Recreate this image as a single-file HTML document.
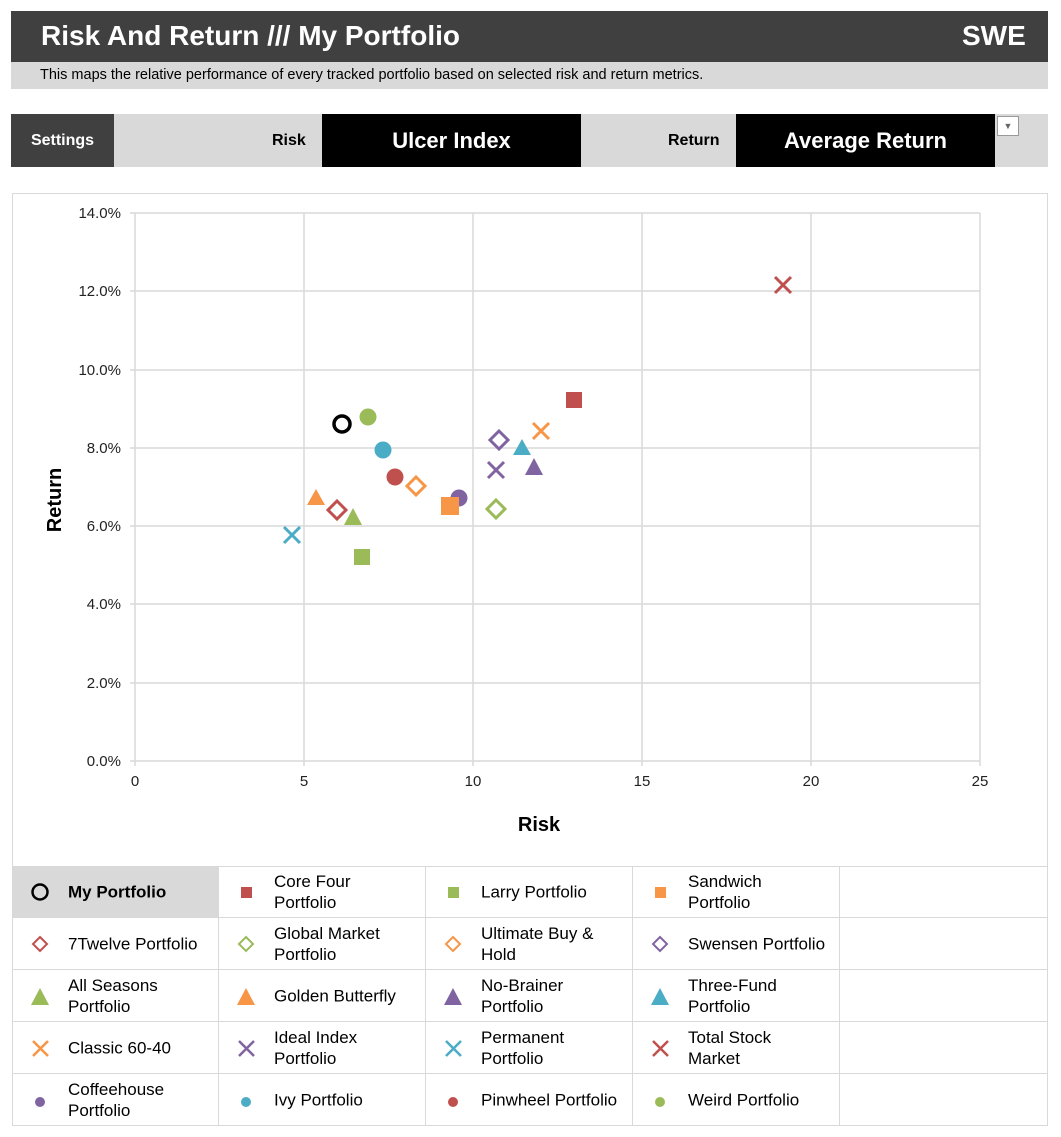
<!DOCTYPE html>
<html><head><style>
body{margin:0;width:1061px;height:1137px;background:#fff;font-family:"Liberation Sans",Arial,sans-serif;position:relative;overflow:hidden}
.a{position:absolute}
.lg{position:absolute;border-right:1px solid #d9d9d9;border-bottom:1px solid #d9d9d9;box-sizing:border-box;font-size:17px;color:#000;line-height:21px}
.lg svg{position:absolute;left:18px;top:17px}
.lg span{position:absolute;left:55px;top:50%;transform:translateY(-50%)}
</style></head><body>
<div class="a" style="left:11px;top:11px;width:1037px;height:51px;background:#404040"></div>
<div class="a" style="left:41px;top:20px;color:#fff;font-size:28px;font-weight:bold">Risk And Return /// My Portfolio</div>
<div class="a" style="left:962px;top:20px;color:#fff;font-size:28px;font-weight:bold">SWE</div>
<div class="a" style="left:11px;top:62px;width:1037px;height:27px;background:#d9d9d9"></div>
<div class="a" style="left:40px;top:67px;font-size:14.5px">This maps the relative performance of every tracked portfolio based on selected risk and return metrics.</div>
<div class="a" style="left:11px;top:114px;width:1037px;height:53px;background:#d9d9d9"></div>
<div class="a" style="left:11px;top:114px;width:103px;height:53px;background:#404040;color:#fff;font-size:16px;font-weight:bold;line-height:53px;text-align:center">Settings</div>
<div class="a" style="left:272px;top:114px;font-size:16px;font-weight:bold;line-height:53px">Risk</div>
<div class="a" style="left:322px;top:114px;width:259px;height:53px;background:#000;color:#fff;font-size:22px;font-weight:bold;line-height:53px;text-align:center">Ulcer Index</div>
<div class="a" style="left:668px;top:114px;font-size:16px;font-weight:bold;line-height:53px">Return</div>
<div class="a" style="left:736px;top:114px;width:259px;height:53px;background:#000;color:#fff;font-size:22px;font-weight:bold;line-height:53px;text-align:center">Average Return</div>
<div class="a" style="left:997px;top:116px;width:22px;height:20px;background:#fff;border:1px solid #999;box-sizing:border-box;font-size:9px;color:#666;text-align:center;line-height:18px">▼</div>
<svg class="a" style="left:0;top:0" width="1061" height="870">
<rect x="12.5" y="193.5" width="1035" height="673" fill="#fff" stroke="#d9d9d9"/>
<g stroke="#d9d9d9" stroke-width="1.5">
<line x1="130" y1="213" x2="980" y2="213"/><line x1="130" y1="291" x2="980" y2="291"/><line x1="130" y1="370" x2="980" y2="370"/><line x1="130" y1="448" x2="980" y2="448"/><line x1="130" y1="526" x2="980" y2="526"/><line x1="130" y1="604" x2="980" y2="604"/><line x1="130" y1="683" x2="980" y2="683"/><line x1="130" y1="761" x2="980" y2="761"/>
<line x1="135" y1="213" x2="135" y2="766"/><line x1="304" y1="213" x2="304" y2="766"/><line x1="473" y1="213" x2="473" y2="766"/><line x1="642" y1="213" x2="642" y2="766"/><line x1="811" y1="213" x2="811" y2="766"/><line x1="980" y1="213" x2="980" y2="766"/>
</g>
<g font-size="15" fill="#222" text-anchor="end">
<text x="121" y="218">14.0%</text><text x="121" y="296">12.0%</text><text x="121" y="375">10.0%</text><text x="121" y="453">8.0%</text><text x="121" y="531">6.0%</text><text x="121" y="609">4.0%</text><text x="121" y="688">2.0%</text><text x="121" y="766">0.0%</text>
</g>
<g font-size="15" fill="#222" text-anchor="middle"><text x="135" y="786">0</text><text x="304" y="786">5</text><text x="473" y="786">10</text><text x="642" y="786">15</text><text x="811" y="786">20</text><text x="980" y="786">25</text></g>
<text x="539" y="831" font-size="20" font-weight="bold" text-anchor="middle">Risk</text>
<text transform="translate(61,500) rotate(-90)" font-size="20" font-weight="bold" text-anchor="middle">Return</text>
<g stroke-width="3" fill="none">
<circle cx="342" cy="424" r="8" stroke="#000" stroke-width="3.5"/>
<circle cx="368" cy="417" r="8.5" fill="#9bbb59" stroke="none"/>
<circle cx="383" cy="450" r="8.5" fill="#4bacc6" stroke="none"/>
<circle cx="395" cy="477" r="8.5" fill="#c0504d" stroke="none"/>
<circle cx="459" cy="498" r="8.5" fill="#8064a2" stroke="none"/>
<rect x="441" y="497" width="18" height="18" fill="#f79646" stroke="none"/>
<rect x="354" y="549" width="16" height="16" fill="#9bbb59" stroke="none"/>
<rect x="566" y="392" width="16" height="16" fill="#c0504d" stroke="none"/>
<path d="M416 477l9 9-9 9-9-9z" stroke="#f79646"/>
<path d="M337 501l9 9-9 9-9-9z" stroke="#c0504d"/>
<path d="M499 431l9 9-9 9-9-9z" stroke="#8064a2"/>
<path d="M496 500l9 9-9 9-9-9z" stroke="#9bbb59"/>
<path d="M316 489l9 16h-18z" fill="#f79646" stroke="none"/>
<path d="M353 508l9 17h-18z" fill="#9bbb59" stroke="none"/>
<path d="M522 439l9 16h-18z" fill="#4bacc6" stroke="none"/>
<path d="M534 458l9 17h-18z" fill="#8064a2" stroke="none"/>
<path d="M284 527l16 16M300 527l-16 16" stroke="#4bacc6"/>
<path d="M488 462l16 16M504 462l-16 16" stroke="#8064a2"/>
<path d="M533 423l16 16M549 423l-16 16" stroke="#f79646"/>
<path d="M775 277l16 16M791 277l-16 16" stroke="#c0504d"/>
</g>
</svg>
<div class="a" style="left:12px;top:866px;width:1036px;height:260px;border-left:1px solid #d9d9d9;border-top:1px solid #d9d9d9;box-sizing:border-box"></div>
<div class="lg" style="left:12px;top:866px;width:207px;height:52px;background:#d9d9d9;border-left:1px solid #d9d9d9"><svg width="20" height="20"><circle cx="9" cy="9" r="7.5" fill="none" stroke="#000" stroke-width="2.5"/></svg><span style="font-weight:bold">My Portfolio</span></div>
<div class="lg" style="left:219px;top:866px;width:207px;height:52px"><svg width="20" height="20"><rect x="4" y="4" width="11" height="11" fill="#c0504d"/></svg><span>Core Four<br>Portfolio</span></div>
<div class="lg" style="left:426px;top:866px;width:207px;height:52px"><svg width="20" height="20"><rect x="4" y="4" width="11" height="11" fill="#9bbb59"/></svg><span>Larry Portfolio</span></div>
<div class="lg" style="left:633px;top:866px;width:207px;height:52px"><svg width="20" height="20"><rect x="4" y="4" width="11" height="11" fill="#f79646"/></svg><span>Sandwich<br>Portfolio</span></div>
<div class="lg" style="left:840px;top:866px;width:208px;height:52px"></div>

<div class="lg" style="left:12px;top:918px;width:207px;height:52px;border-left:1px solid #d9d9d9"><svg width="20" height="20"><path d="M9 2l7 7-7 7-7-7z" fill="none" stroke="#c0504d" stroke-width="2"/></svg><span>7Twelve Portfolio</span></div>
<div class="lg" style="left:219px;top:918px;width:207px;height:52px"><svg width="20" height="20"><path d="M9 2l7 7-7 7-7-7z" fill="none" stroke="#9bbb59" stroke-width="2"/></svg><span>Global Market<br>Portfolio</span></div>
<div class="lg" style="left:426px;top:918px;width:207px;height:52px"><svg width="20" height="20"><path d="M9 2l7 7-7 7-7-7z" fill="none" stroke="#f79646" stroke-width="2"/></svg><span>Ultimate Buy &amp;<br>Hold</span></div>
<div class="lg" style="left:633px;top:918px;width:207px;height:52px"><svg width="20" height="20"><path d="M9 2l7 7-7 7-7-7z" fill="none" stroke="#8064a2" stroke-width="2"/></svg><span>Swensen Portfolio</span></div>
<div class="lg" style="left:840px;top:918px;width:208px;height:52px"></div>

<div class="lg" style="left:12px;top:970px;width:207px;height:52px;border-left:1px solid #d9d9d9"><svg width="20" height="20"><path d="M9 1l9 17H0z" fill="#9bbb59"/></svg><span>All Seasons<br>Portfolio</span></div>
<div class="lg" style="left:219px;top:970px;width:207px;height:52px"><svg width="20" height="20"><path d="M9 1l9 17H0z" fill="#f79646"/></svg><span>Golden Butterfly</span></div>
<div class="lg" style="left:426px;top:970px;width:207px;height:52px"><svg width="20" height="20"><path d="M9 1l9 17H0z" fill="#8064a2"/></svg><span>No-Brainer<br>Portfolio</span></div>
<div class="lg" style="left:633px;top:970px;width:207px;height:52px"><svg width="20" height="20"><path d="M9 1l9 17H0z" fill="#4bacc6"/></svg><span>Three-Fund<br>Portfolio</span></div>
<div class="lg" style="left:840px;top:970px;width:208px;height:52px"></div>

<div class="lg" style="left:12px;top:1022px;width:207px;height:52px;border-left:1px solid #d9d9d9"><svg width="20" height="20"><path d="M2 2l15 15M17 2L2 17" stroke="#f79646" stroke-width="2.5"/></svg><span>Classic 60-40</span></div>
<div class="lg" style="left:219px;top:1022px;width:207px;height:52px"><svg width="20" height="20"><path d="M2 2l15 15M17 2L2 17" stroke="#8064a2" stroke-width="2.5"/></svg><span>Ideal Index<br>Portfolio</span></div>
<div class="lg" style="left:426px;top:1022px;width:207px;height:52px"><svg width="20" height="20"><path d="M2 2l15 15M17 2L2 17" stroke="#4bacc6" stroke-width="2.5"/></svg><span>Permanent<br>Portfolio</span></div>
<div class="lg" style="left:633px;top:1022px;width:207px;height:52px"><svg width="20" height="20"><path d="M2 2l15 15M17 2L2 17" stroke="#c0504d" stroke-width="2.5"/></svg><span>Total Stock<br>Market</span></div>
<div class="lg" style="left:840px;top:1022px;width:208px;height:52px"></div>

<div class="lg" style="left:12px;top:1074px;width:207px;height:52px;border-left:1px solid #d9d9d9"><svg width="20" height="20"><circle cx="9" cy="11" r="5" fill="#8064a2"/></svg><span>Coffeehouse<br>Portfolio</span></div>
<div class="lg" style="left:219px;top:1074px;width:207px;height:52px"><svg width="20" height="20"><circle cx="9" cy="11" r="5" fill="#4bacc6"/></svg><span>Ivy Portfolio</span></div>
<div class="lg" style="left:426px;top:1074px;width:207px;height:52px"><svg width="20" height="20"><circle cx="9" cy="11" r="5" fill="#c0504d"/></svg><span>Pinwheel Portfolio</span></div>
<div class="lg" style="left:633px;top:1074px;width:207px;height:52px"><svg width="20" height="20"><circle cx="9" cy="11" r="5" fill="#9bbb59"/></svg><span>Weird Portfolio</span></div>
<div class="lg" style="left:840px;top:1074px;width:208px;height:52px"></div>
</body></html>
